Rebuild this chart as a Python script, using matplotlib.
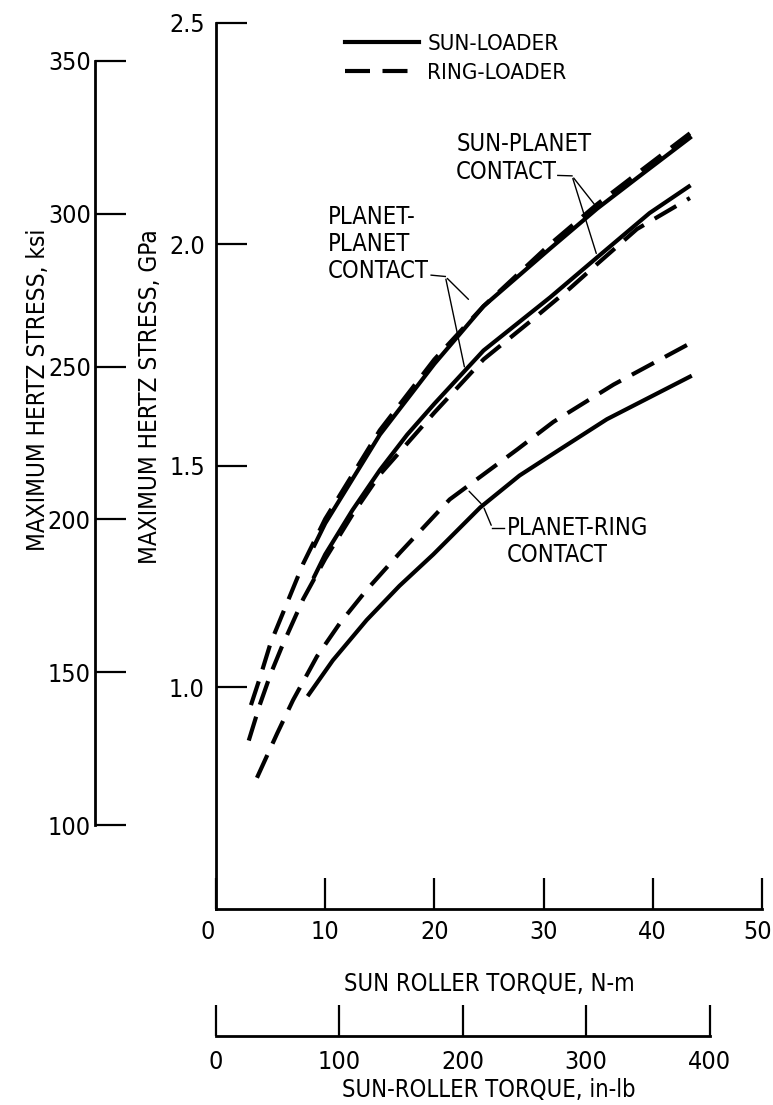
import numpy as np
import matplotlib.pyplot as plt
from matplotlib.transforms import ScaledTranslation

# --- data (torque N-m, max Hertz stress GPa) ---
sp_ring_x = [3.2, 4, 5, 6, 8, 10, 12.5, 15, 17.5, 20, 24.5, 30.6, 34.9, 38.6, 43.4]
sp_ring_y = [0.96, 1.02, 1.10, 1.16, 1.28, 1.38, 1.48, 1.58, 1.66, 1.74, 1.86, 2.0, 2.09, 2.16, 2.25]

sp_sun_x = [9, 10, 12.5, 15, 17.5, 20, 24.5, 30.6, 34.9, 38.6, 43.4]
sp_sun_y = [1.32, 1.37, 1.47, 1.57, 1.65, 1.73, 1.86, 1.99, 2.08, 2.15, 2.24]

pp_sun_x = [9, 10, 12.5, 15, 17.5, 20, 24.5, 30.6, 34.9, 39.7, 43.3]
pp_sun_y = [1.25, 1.30, 1.40, 1.49, 1.57, 1.64, 1.76, 1.88, 1.97, 2.07, 2.13]

pp_ring_x = [3.0, 4, 5, 6, 8, 10, 12.5, 15, 17.5, 20, 24.5, 28.75, 32.4, 34.9, 38.55, 43.4]
pp_ring_y = [0.88, 0.96, 1.03, 1.09, 1.20, 1.29, 1.39, 1.48, 1.55, 1.62, 1.74, 1.825, 1.90, 1.955, 2.034, 2.104]

pr_sun_x = [8.5, 10.7, 13.8, 16.8, 19.9, 24.2, 27.8, 31.5, 35.8, 43.4]
pr_sun_y = [0.984, 1.061, 1.152, 1.229, 1.30, 1.406, 1.478, 1.537, 1.605, 1.701]

pr_ring_x = [3.75, 5.6, 7.05, 9.25, 11.35, 13.8, 16.85, 21.4, 27.6, 30.9, 36.4, 43.4]
pr_ring_y = [0.796, 0.896, 0.971, 1.070, 1.145, 1.22, 1.304, 1.424, 1.537, 1.599, 1.683, 1.776]

gpa_ticks = [1.0, 1.5, 2.0, 2.5]
ksi_ticks = [100, 150, 200, 250, 300, 350]
nm_ticks = [0, 10, 20, 30, 40, 50]
inlb_ticks = [0, 100, 200, 300, 400]

KSI_PER_GPA = 1 / 0.006894757
INLB_PER_NM = 1 / 0.112985

plt.rcParams['font.family'] = ['DejaVu Sans']
plt.rcParams['font.stretch'] = 'condensed'

W, H = 773, 1105
fig = plt.figure(figsize=(W / 100, H / 100), dpi=100)

def fx(px):
    return px / W

def fy(py):
    return 1 - py / H

# main axes
ax = fig.add_axes([fx(216), fy(909), fx(762) - fx(216), fy(22.5) - fy(909)])
ax.set_xlim(0, 50)
ax.set_ylim(0.5, 2.5)

lw = 3
dash = (6, 3)
ax.plot(sp_sun_x, sp_sun_y, color='black', lw=lw, label='SUN-LOADER')
ax.plot(sp_ring_x, sp_ring_y, color='black', lw=lw, dashes=dash, label='RING-LOADER')
ax.plot(pp_sun_x, pp_sun_y, color='black', lw=lw)
ax.plot(pp_ring_x, pp_ring_y, color='black', lw=lw, dashes=dash)
ax.plot(pr_sun_x, pr_sun_y, color='black', lw=lw)
ax.plot(pr_ring_x, pr_ring_y, color='black', lw=lw, dashes=dash)

for s in ['top', 'right']:
    ax.spines[s].set_visible(False)
for s in ['left', 'bottom']:
    ax.spines[s].set_linewidth(2)
ax.set_yticks(gpa_ticks)
ax.set_yticklabels(['%.1f' % v for v in gpa_ticks])
ax.set_xticks(nm_ticks)
ax.tick_params(direction='in', length=22, width=1.6, labelsize=18, pad=8)
ax.set_xlabel('SUN ROLLER TORQUE, N-m', fontsize=17, labelpad=20)

# nudge first and last x tick labels like the original
xl = ax.get_xticklabels()
xl[0].set_transform(xl[0].get_transform() + ScaledTranslation(-8 / 100, 0, fig.dpi_scale_trans))
xl[-1].set_transform(xl[-1].get_transform() + ScaledTranslation(-4 / 100, 0, fig.dpi_scale_trans))

fig.text(fx(150), fy(397), 'MAXIMUM HERTZ STRESS, GPa', fontsize=17.5, rotation=90,
         ha='center', va='center')

leg = ax.legend(loc='upper left', bbox_to_anchor=(0.2, 1.01), frameon=False,
                fontsize=16, handlelength=3.3, handletextpad=0.4, labelspacing=0.4)

# labels with leader lines
fs = 17
ax.text(22.0, 2.195, 'SUN-PLANET\nCONTACT', fontsize=fs, va='center', ha='left', linespacing=1.2)
ax.plot([31.3, 32.6], [2.155, 2.154], color='black', lw=1)
ax.annotate('', xy=(34.9, 2.082), xytext=(32.6, 2.154),
            arrowprops=dict(arrowstyle='-', lw=1, color='black'))
ax.annotate('', xy=(34.9, 1.973), xytext=(32.6, 2.154),
            arrowprops=dict(arrowstyle='-', lw=1, color='black'))

ax.text(10.2, 2.0, 'PLANET-\nPLANET\nCONTACT', fontsize=fs, va='center', ha='left', linespacing=1.15)
ax.plot([19.7, 21.0], [1.93, 1.927], color='black', lw=1)
ax.annotate('', xy=(23.3, 1.871), xytext=(21.0, 1.927),
            arrowprops=dict(arrowstyle='-', lw=1, color='black'))
ax.annotate('', xy=(22.8, 1.717), xytext=(21.0, 1.927),
            arrowprops=dict(arrowstyle='-', lw=1, color='black'))

ax.text(26.6, 1.329, 'PLANET-RING\nCONTACT', fontsize=fs, va='center', ha='left', linespacing=1.2)
ax.plot([25.3, 26.4], [1.36, 1.36], color='black', lw=1)
ax.annotate('', xy=(24.45, 1.41), xytext=(25.3, 1.36),
            arrowprops=dict(arrowstyle='-', lw=1, color='black'))
ax.annotate('', xy=(23.0, 1.447), xytext=(24.45, 1.41),
            arrowprops=dict(arrowstyle='-', lw=1, color='black'))

# ksi scale
ax2 = fig.add_axes([fx(95), fy(909), 0.001, fy(22.5) - fy(909)])
ax2.set_ylim(0.5 * KSI_PER_GPA, 2.5 * KSI_PER_GPA)
ax2.patch.set_visible(False)
for s in ['top', 'right', 'bottom']:
    ax2.spines[s].set_visible(False)
ax2.spines['left'].set_bounds(100, 350)
ax2.spines['left'].set_linewidth(2)
ax2.set_xticks([])
ax2.set_yticks(ksi_ticks)
ax2.tick_params(axis='y', direction='in', length=22, width=1.6, labelsize=18, pad=3)
fig.text(fx(38), fy(390), 'MAXIMUM HERTZ STRESS, ksi', fontsize=17.5, rotation=90,
         ha='center', va='center')

# in-lb scale
ax3 = fig.add_axes([fx(216), fy(1036), fx(762) - fx(216), 0.001])
ax3.set_xlim(0, 50 * INLB_PER_NM)
ax3.patch.set_visible(False)
for s in ['top', 'right', 'left']:
    ax3.spines[s].set_visible(False)
ax3.spines['bottom'].set_bounds(0, 400)
ax3.spines['bottom'].set_linewidth(2)
ax3.set_yticks([])
ax3.set_xticks(inlb_ticks)
ax3.tick_params(axis='x', direction='in', length=22, width=1.6, labelsize=18, pad=10)
ax3.set_xlabel('SUN-ROLLER TORQUE, in-lb', fontsize=17, labelpad=3)

fig.savefig('out.png', dpi=100)
